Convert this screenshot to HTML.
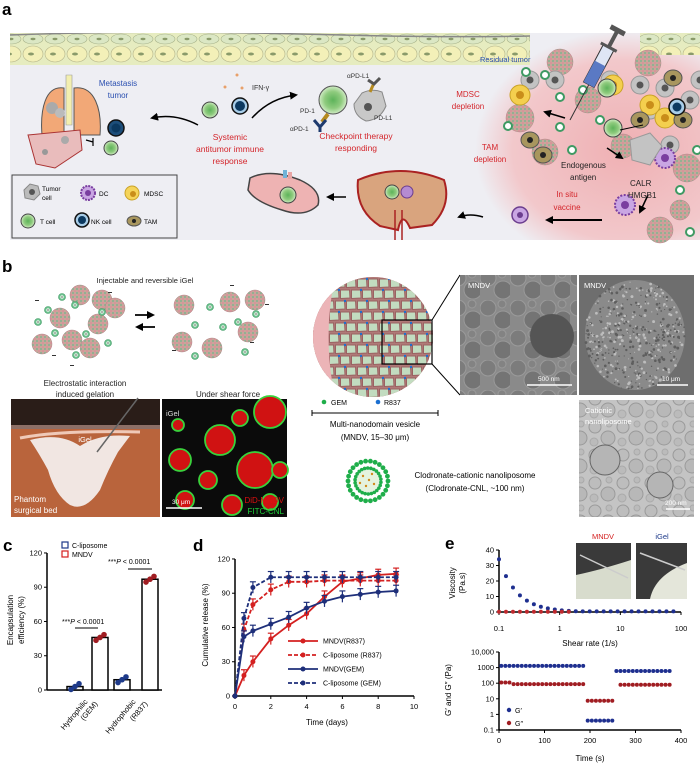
<!DOCTYPE html>
<html><head><meta charset="utf-8"><style>
html,body{margin:0;padding:0;background:#fff;}
svg{display:block;font-family:"Liberation Sans",Arial,sans-serif;}
</style></head><body>
<svg id="s" width="700" height="766" viewBox="0 0 700 766" xmlns="http://www.w3.org/2000/svg">
<defs>
<radialGradient id="tum" cx="0.5" cy="0.5" r="0.5">
<stop offset="0" stop-color="#efb0b3"/><stop offset="0.75" stop-color="#f2c8cb"/><stop offset="1" stop-color="#eeeef3"/>
</radialGradient>
<pattern id="np" width="4" height="4" patternUnits="userSpaceOnUse">
<rect width="4" height="4" fill="#c9a59a"/><circle cx="1" cy="1" r="0.9" fill="#6fb68d"/><circle cx="3" cy="3" r="0.9" fill="#e08a9a"/>
</pattern>
<radialGradient id="tc" cx="0.5" cy="0.5" r="0.5"><stop offset="0" stop-color="#5db35a"/><stop offset="0.6" stop-color="#8fcb7e"/><stop offset="1" stop-color="#d2ecc6"/></radialGradient>
<radialGradient id="sph" cx="0.4" cy="0.4" r="0.6"><stop offset="0" stop-color="#f6d3d3"/><stop offset="1" stop-color="#e7a9ad"/></radialGradient>
<pattern id="em1" width="30" height="30" patternUnits="userSpaceOnUse">
<rect width="30" height="30" fill="#8a8a8a"/><circle cx="8" cy="8" r="8" fill="#7c7c7c" stroke="#9a9a9a"/><circle cx="23" cy="20" r="9" fill="#747474" stroke="#999"/><circle cx="22" cy="4" r="4" fill="#838383" stroke="#9a9a9a"/>
</pattern>
<pattern id="em3" width="28" height="28" patternUnits="userSpaceOnUse">
<rect width="28" height="28" fill="#c4c4c4"/><circle cx="7" cy="7" r="6" fill="#bdbdbd" stroke="#9a9a9a"/><circle cx="20" cy="18" r="7" fill="#b8b8b8" stroke="#9a9a9a"/><circle cx="21" cy="4" r="3" fill="#bbb" stroke="#aaa"/><circle cx="6" cy="22" r="4" fill="#bbb" stroke="#aaa"/>
</pattern>
<pattern id="skin" width="22" height="32" patternUnits="userSpaceOnUse">
<rect width="22" height="32" fill="#e6ecc0"/>
<ellipse cx="11" cy="7" rx="10" ry="5" fill="#dbe7c4" stroke="#a8b38a" stroke-width="0.6"/>
<ellipse cx="11" cy="22" rx="10" ry="8" fill="#f3f0b8" stroke="#b4b48a" stroke-width="0.6"/>
<ellipse cx="9" cy="22" rx="3" ry="1.5" fill="#8a9a6a"/><ellipse cx="11" cy="7" rx="2.5" ry="1.2" fill="#8a9a6a"/>
</pattern>
<marker id="ah" markerWidth="8" markerHeight="8" refX="6" refY="4" orient="auto" markerUnits="userSpaceOnUse"><path d="M0,0 L8,4 L0,8 z" fill="#000"/></marker>
<clipPath id="boxA"><rect x="10" y="33" width="690" height="207"/></clipPath>
<clipPath id="sphC"><circle cx="373" cy="337" r="60"/></clipPath>
</defs>

<!-- PANEL A -->
<text x="2" y="15" font-size="17" font-weight="bold">a</text>
<rect x="10" y="33" width="690" height="207" fill="#eeeef3"/>
<g clip-path="url(#boxA)">
<ellipse cx="625" cy="150" rx="150" ry="120" fill="url(#tum)"/>
<rect x="10" y="33" width="520" height="32" fill="url(#skin)"/>
<rect x="640" y="33" width="60" height="22" fill="url(#skin)"/>
<path d="M10,35 Q150,30 300,34 T530,36" stroke="#888" stroke-width="1.5" fill="none"/>
</g>
<path d="M66,75 L72,75 L72,125 L66,125 Z" fill="#f3efb0" stroke="#999" stroke-width="0.6"/>
<path d="M64,88 C45,85 40,110 42,135 L64,135 Z" fill="#f2a877" stroke="#555" stroke-width="1"/>
<path d="M74,88 C95,85 102,110 100,135 L74,135 Z" fill="#f2a877" stroke="#555" stroke-width="1"/>
<path d="M28,135 L80,130 L82,150 L55,168 L36,164 Z" fill="#e9bcbc" stroke="#a33" stroke-width="1"/>
<circle cx="52" cy="108" r="6" fill="#aaa"/><circle cx="60" cy="113" r="5" fill="#bbb"/><circle cx="65" cy="140" r="4" fill="#aaa"/><circle cx="45" cy="152" r="3" fill="#999"/>
<text x="118" y="86" font-size="8" fill="#2a4fb0" text-anchor="middle">Metastasis</text>
<text x="118" y="98" font-size="8" fill="#2a4fb0" text-anchor="middle">tumor</text>
<circle cx="116" cy="128" r="8" fill="#1d4e7a" stroke="#111" stroke-width="1.5"/><circle cx="116" cy="128" r="4.5" fill="#0c3960"/>
<circle cx="111" cy="148" r="7" fill="url(#tc)" stroke="#444"/>
<path d="M86,140 L93,142 M93,138 L93,146" stroke="#000" stroke-width="1.2"/>
<path d="M198,125 Q175,113 152,118" stroke="#000" stroke-width="1.5" fill="none" marker-end="url(#ah)"/>
<circle cx="237" cy="75" r="1.5" fill="#e8a06a"/><circle cx="225" cy="87" r="1.5" fill="#e8a06a"/><circle cx="242" cy="88" r="1.5" fill="#e8a06a"/>
<text x="252" y="90" font-size="7" fill="#333">IFN-γ</text>
<circle cx="210" cy="110" r="8" fill="url(#tc)" stroke="#444"/>
<circle cx="240" cy="106" r="8" fill="#a8cde8" stroke="#111" stroke-width="1.5"/><circle cx="240" cy="106" r="5" fill="#0c3960"/>
<text x="230" y="140" font-size="8.5" fill="#d4252b" text-anchor="middle">Systemic</text>
<text x="230" y="152" font-size="8.5" fill="#d4252b" text-anchor="middle">antitumor immune</text>
<text x="230" y="164" font-size="8.5" fill="#d4252b" text-anchor="middle">response</text>
<path d="M252,118 Q270,98 296,95" stroke="#000" stroke-width="1.5" fill="none" marker-end="url(#ah)"/>
<circle cx="333" cy="100" r="14" fill="url(#tc)" stroke="#555"/>
<path d="M328,114 L322,122" stroke="#b58a1f" stroke-width="4"/>
<path d="M314,120 L320,127 L326,120 M320,127 L320,132" stroke="#1e3a6e" stroke-width="3" fill="none"/>
<text x="300" y="113" font-size="6.5" fill="#333">PD-1</text>
<text x="290" y="131" font-size="6.5" fill="#333">αPD-1</text>
<path d="M362,93 Q372,88 382,92 L386,106 Q380,120 366,121 Q354,116 354,104 Z" fill="#c8c8c8" stroke="#888"/>
<circle cx="368" cy="107" r="4" fill="#555"/>
<path d="M370,92 L374,83" stroke="#b58a1f" stroke-width="3"/><path d="M368,80 L374,84 L380,78" stroke="#555" stroke-width="3" fill="none"/>
<text x="347" y="78" font-size="6.5" fill="#333">αPD-L1</text>
<text x="374" y="120" font-size="6.5" fill="#333">PD-L1</text>
<text x="356" y="139" font-size="8.5" fill="#d4252b" text-anchor="middle">Checkpoint therapy</text>
<text x="356" y="151" font-size="8.5" fill="#d4252b" text-anchor="middle">responding</text>
<path d="M250,178 Q270,168 300,180 Q322,190 318,205 Q305,218 282,210 Q255,202 248,190 Z" fill="#eeb3b3" stroke="#444" stroke-width="1.5"/>
<rect x="283" y="170" width="4" height="8" fill="#6fb3d8"/><rect x="288" y="172" width="4" height="7" fill="#e8a5a5"/>
<circle cx="288" cy="195" r="8" fill="url(#tc)" stroke="#444"/>
<path d="M346,197 L328,197" stroke="#000" stroke-width="1.5" marker-end="url(#ah)"/>
<path d="M358,180 Q400,162 444,180 Q452,205 432,225 L410,228 Q402,210 398,230 L380,226 Q355,210 358,180 Z" fill="#d9a47e" stroke="#a22" stroke-width="2"/>
<path d="M395,210 L395,240 M402,210 L402,240" stroke="#a22" stroke-width="1.5"/>
<circle cx="392" cy="192" r="7" fill="url(#tc)" stroke="#444"/>
<circle cx="407" cy="192" r="6" fill="#b58bd1" stroke="#6b3d8e"/>
<path d="M483,217 Q470,213 459,217" stroke="#000" stroke-width="1.5" fill="none" marker-end="url(#ah)"/>
<circle cx="520" cy="215" r="8" fill="#c9a6e3" stroke="#6b3d8e" stroke-width="1.5"/><circle cx="520" cy="215" r="3" fill="#6b3d8e"/>
<path d="M602,220 L547,220" stroke="#000" stroke-width="2" marker-end="url(#ah)"/>
<g id="tumorStuff"></g>
<text x="480" y="62" font-size="7.5" fill="#2a4fb0">Residual tumor</text>
<text x="468" y="97" font-size="8" fill="#d4252b" text-anchor="middle">MDSC</text>
<text x="468" y="109" font-size="8" fill="#d4252b" text-anchor="middle">depletion</text>
<text x="490" y="150" font-size="8" fill="#d4252b" text-anchor="middle">TAM</text>
<text x="490" y="162" font-size="8" fill="#d4252b" text-anchor="middle">depletion</text>
<text x="561" y="168" font-size="8" fill="#222">Endogenous</text>
<text x="570" y="180" font-size="8" fill="#222">antigen</text>
<text x="630" y="186" font-size="8" fill="#222">CALR</text>
<text x="628" y="198" font-size="8" fill="#222">HMGB1</text>
<text x="567" y="197" font-size="8" fill="#d4252b" text-anchor="middle">In situ</text>
<text x="567" y="210" font-size="8" fill="#d4252b" text-anchor="middle">vaccine</text>
<g transform="translate(570,120) rotate(28)">
<line x1="0" y1="0" x2="0" y2="-40" stroke="#333" stroke-width="1"/>
<rect x="-6" y="-82" width="12" height="42" fill="#dfe6f5" stroke="#333"/>
<rect x="-6" y="-64" width="12" height="24" fill="#5a79c4"/>
<rect x="-2" y="-100" width="4" height="18" fill="#555"/>
<rect x="-8" y="-104" width="16" height="5" fill="#555"/>
<rect x="-9" y="-84" width="18" height="3" fill="#555"/>
</g>
<rect x="12" y="175" width="165" height="63" fill="#eeeef3" stroke="#444" stroke-width="1"/>
<path d="M24,190 L30,184 L38,186 L40,194 L34,200 L25,198 Z" fill="#bbb" stroke="#888"/><circle cx="32" cy="192" r="3" fill="#555"/>
<text x="42" y="191" font-size="6.5">Tumor</text><text x="42" y="200" font-size="6.5">cell</text>
<circle cx="88" cy="193" r="7" fill="#c9a6e3" stroke="#7a3ea0" stroke-width="2" stroke-dasharray="2 1"/><circle cx="88" cy="193" r="3" fill="#7a3ea0"/>
<text x="99" y="196" font-size="6.5">DC</text>
<circle cx="132" cy="193" r="7" fill="#f5d45a" stroke="#c9a227"/><circle cx="133" cy="194" r="3" fill="#c98e1a"/>
<text x="144" y="196" font-size="6.5">MDSC</text>
<circle cx="28" cy="221" r="7" fill="url(#tc)" stroke="#444"/>
<text x="40" y="224" font-size="6.5">T cell</text>
<circle cx="82" cy="220" r="7" fill="#a8cde8" stroke="#111" stroke-width="1.5"/><circle cx="82" cy="220" r="4" fill="#0c3960"/>
<text x="91" y="224" font-size="6.5">NK cell</text>
<ellipse cx="134" cy="221" rx="7" ry="5" fill="#a8965e" stroke="#555"/><circle cx="134" cy="221" r="2" fill="#222"/>
<text x="144" y="224" font-size="6.5">TAM</text>

<!-- PANEL B -->
<text x="2" y="272" font-size="17" font-weight="bold">b</text>
<text x="145" y="283" font-size="7.5" text-anchor="middle" fill="#222">Injectable and reversible iGel</text>
<g id="clusters"></g>
<path d="M135,315 L153,315" stroke="#000" stroke-width="1.8" marker-end="url(#ah)"/>
<path d="M155,327 L137,327" stroke="#000" stroke-width="1.8" marker-end="url(#ah)"/>
<text x="85" y="386" font-size="8" text-anchor="middle" fill="#222">Electrostatic interaction</text>
<text x="85" y="397" font-size="8" text-anchor="middle" fill="#222">induced gelation</text>
<text x="228" y="397" font-size="8" text-anchor="middle" fill="#222">Under shear force</text>
<rect x="11" y="399" width="149" height="118" fill="#b9643c"/>
<rect x="11" y="399" width="149" height="30" fill="#2a1d18"/>
<rect x="11" y="425" width="149" height="4" fill="#8d6f66"/>
<path d="M30,440 Q60,432 80,446 Q100,433 130,436 L118,452 Q108,470 100,490 Q85,512 70,505 Q55,495 48,470 Q40,455 30,440 Z" fill="#f1e6e2"/>
<path d="M20,438 Q60,430 140,432" stroke="#efc9b8" stroke-width="3" fill="none"/>
<line x1="97" y1="452" x2="138" y2="398" stroke="#666" stroke-width="1.5"/>
<text x="85" y="442" font-size="7.5" fill="#fff" text-anchor="middle">iGel</text>
<text x="14" y="502" font-size="8" fill="#fff">Phantom</text>
<text x="14" y="513" font-size="8" fill="#fff">surgical bed</text>
<rect x="162" y="399" width="125" height="118" fill="#0b0b0b"/>
<g id="fluo"></g>
<text x="166" y="416" font-size="7.5" fill="#ddd">iGel</text>
<line x1="166" y1="508" x2="202" y2="508" stroke="#fff" stroke-width="1.5"/>
<text x="172" y="504" font-size="6.5" fill="#fff">30 μm</text>
<text x="284" y="503" font-size="8" fill="#e01010" text-anchor="end">DiD-MNDV</text>
<text x="284" y="514" font-size="8" fill="#1ed23a" text-anchor="end">FITC-CNL</text>
<circle cx="373" cy="337" r="60" fill="url(#sph)"/>
<g clip-path="url(#sphC)" id="sphere"></g>
<rect x="382" y="320" width="50" height="44" fill="none" stroke="#000" stroke-width="1.2"/>
<line x1="432" y1="320" x2="460" y2="275" stroke="#000" stroke-width="1"/>
<line x1="432" y1="364" x2="460" y2="395" stroke="#000" stroke-width="1"/>
<rect x="460" y="275" width="117" height="120" fill="url(#em1)"/>
<circle cx="552" cy="336" r="22" fill="#555"/>
<text x="468" y="288" font-size="7.5" fill="#fff">MNDV</text>
<line x1="527" y1="385" x2="572" y2="385" stroke="#fff" stroke-width="1.5"/>
<text x="538" y="381" font-size="6.5" fill="#fff">500 nm</text>
<rect x="579" y="275" width="115" height="120" fill="#6e6e6e"/>
<ellipse cx="635" cy="335" rx="50" ry="55" fill="#8a8a8a"/>
<g id="sem"></g>
<text x="584" y="288" font-size="7.5" fill="#fff">MNDV</text>
<line x1="657" y1="385" x2="688" y2="385" stroke="#fff" stroke-width="1.5"/>
<text x="662" y="381" font-size="6.5" fill="#fff">10 μm</text>
<rect x="579" y="400" width="115" height="117" fill="url(#em3)"/>
<circle cx="605" cy="460" r="15" fill="#b5b5b5" stroke="#666"/><circle cx="660" cy="485" r="13" fill="#b5b5b5" stroke="#666"/>
<text x="585" y="413" font-size="7.5" fill="#fff">Cationic</text>
<text x="585" y="424" font-size="7.5" fill="#fff">nanoliposome</text>
<line x1="666" y1="509" x2="690" y2="509" stroke="#fff" stroke-width="1.5"/>
<text x="665" y="505" font-size="6.5" fill="#fff">200 nm</text>
<circle cx="324" cy="402" r="2.3" fill="#1fae4a"/><text x="331" y="405" font-size="7">GEM</text>
<circle cx="378" cy="402" r="2.3" fill="#1b6fd1"/><text x="384" y="405" font-size="7">R837</text>
<path d="M312,410 L312,416 M312,413 L438,413 M438,410 L438,416" stroke="#000" stroke-width="1"/>
<text x="375" y="427" font-size="8" text-anchor="middle">Multi-nanodomain vesicle</text>
<text x="375" y="440" font-size="8" text-anchor="middle">(MNDV, 15–30 μm)</text>
<circle cx="368" cy="481" r="20" fill="#fff"/>
<circle cx="368" cy="481" r="12" fill="#e5f3de" stroke="#cde" />
<g id="lipo"></g>
<text x="475" y="478" font-size="8" text-anchor="middle">Clodronate-cationic nanoliposome</text>
<text x="475" y="491" font-size="8" text-anchor="middle">(Clodronate-CNL, ~100 nm)</text>

<!-- PANEL C -->
<text x="3" y="551" font-size="17" font-weight="bold">c</text>
<rect x="62" y="542" width="6" height="6" fill="none" stroke="#1e3a8a" stroke-width="1.2"/><text x="72" y="548" font-size="7">C-liposome</text>
<rect x="62" y="551" width="6" height="6" fill="none" stroke="#d42020" stroke-width="1.2"/><text x="72" y="557" font-size="7">MNDV</text>
<g id="chartC"></g>
<text font-size="8" text-anchor="middle" transform="translate(13,620) rotate(-90)">Encapsulation</text>
<text font-size="8" text-anchor="middle" transform="translate(24,620) rotate(-90)">efficiency (%)</text>
<text font-size="7.5" text-anchor="end" transform="translate(88,702) rotate(-50)">Hydrophilic</text>
<text font-size="7.5" text-anchor="end" transform="translate(98,704) rotate(-50)">(GEM)</text>
<text font-size="7.5" text-anchor="end" transform="translate(136,702) rotate(-50)">Hydrophobic</text>
<text font-size="7.5" text-anchor="end" transform="translate(148,704) rotate(-50)">(R837)</text>
<text x="62" y="624" font-size="7">***<tspan font-style="italic">P</tspan> &lt; 0.0001</text>
<line x1="75" y1="628" x2="98" y2="628" stroke="#000"/>
<text x="108" y="564" font-size="7">***<tspan font-style="italic">P</tspan> &lt; 0.0001</text>
<line x1="128" y1="569" x2="152" y2="569" stroke="#000"/>

<!-- PANEL D -->
<text x="193" y="551" font-size="17" font-weight="bold">d</text>
<g id="chartD"></g>
<text font-size="8" text-anchor="middle" transform="translate(208,625) rotate(-90)">Cumulative release (%)</text>
<text x="327" y="725" font-size="8" text-anchor="middle">Time (days)</text>

<!-- PANEL E -->
<text x="445" y="549" font-size="17" font-weight="bold">e</text>
<g id="chartE"></g>
<text x="603" y="539" font-size="7.5" fill="#d42020" text-anchor="middle">MNDV</text>
<text x="662" y="539" font-size="7.5" fill="#1e3a8a" text-anchor="middle">iGel</text>
<rect x="576" y="543" width="55" height="56" fill="#3a3a3a"/>
<path d="M576,575 Q600,570 631,560 L631,599 L576,599 Z" fill="#d8dccd"/>
<line x1="580" y1="555" x2="628" y2="578" stroke="#ccc" stroke-width="1.5"/>
<rect x="636" y="543" width="51" height="56" fill="#3a3a3a"/>
<path d="M650,599 Q655,575 687,563 L687,599 Z" fill="#e4e6da"/>
<line x1="640" y1="553" x2="685" y2="570" stroke="#ccc" stroke-width="1.5"/>
<text font-size="8" text-anchor="middle" transform="translate(455,583) rotate(-90)">Viscosity</text>
<text font-size="8" text-anchor="middle" transform="translate(465,583) rotate(-90)">(Pa.s)</text>
<text x="590" y="646" font-size="8" text-anchor="middle">Shear rate (1/s)</text>
<text font-size="8" text-anchor="middle" transform="translate(451,690) rotate(-90)">G′ and G″ (Pa)</text>
<text x="590" y="761" font-size="8" text-anchor="middle">Time (s)</text>
<circle cx="509" cy="710" r="2.2" fill="#1e2f8f"/><text x="515" y="713" font-size="7">G′</text>
<circle cx="509" cy="723" r="2.2" fill="#a01d22"/><text x="515" y="726" font-size="7">G″</text>
</svg>
<script>
var NS="http://www.w3.org/2000/svg";
function el(p,t,a,txt){var e=document.createElementNS(NS,t);for(var k in a)e.setAttribute(k,a[k]);if(txt!==undefined)e.textContent=txt;document.getElementById(p).appendChild(e);return e;}
function np(g,x,y,r){el(g,'circle',{cx:x,cy:y,r:r,fill:'url(#np)',stroke:'#b0888a','stroke-width':0.5});}
function cnl(g,x,y,r){el(g,'circle',{cx:x,cy:y,r:r,fill:'#6cc18e',stroke:'#3e9a63','stroke-width':0.6});el(g,'circle',{cx:x,cy:y,r:r*0.5,fill:'#e8f5ea'});el(g,'circle',{cx:x,cy:y,r:r*0.18,fill:'#222'});}
var seed=7;function rnd(){seed=(seed*9301+49297)%233280;return seed/233280;}
var T='tumorStuff';
[[520,118,14],[545,152,13],[588,100,13],[648,63,13],[623,146,12],[560,62,13],[687,168,14],[660,230,13],[680,210,10]].forEach(function(a){np(T,a[0],a[1],a[2]);});
[[530,80],[555,80],[610,80],[640,85],[665,88],[690,100],[650,110],[700,80],[670,145]].forEach(function(a){el(T,'circle',{cx:a[0],cy:a[1],r:9,fill:'#c3c3c3',stroke:'#999'});el(T,'circle',{cx:a[0],cy:a[1],r:3.5,fill:'#555'});});
[[520,95],[613,85],[650,105],[665,118]].forEach(function(a){el(T,'circle',{cx:a[0],cy:a[1],r:10,fill:'#f4cf4e',stroke:'#c9a227'});el(T,'circle',{cx:a[0],cy:a[1],r:4,fill:'#c98e1a'});});
[[530,140],[543,155],[673,78],[683,120],[640,120]].forEach(function(a){el(T,'ellipse',{cx:a[0],cy:a[1],rx:9,ry:8,fill:'#a8965e',stroke:'#555'});el(T,'circle',{cx:a[0],cy:a[1],r:3,fill:'#222'});});
[[607,88,'url(#tc)'],[613,128,'url(#tc)']].forEach(function(a){el(T,'circle',{cx:a[0],cy:a[1],r:9,fill:a[2],stroke:'#444'});});
el(T,'circle',{cx:677,cy:107,r:8,fill:'#a8cde8',stroke:'#111','stroke-width':1.5});el(T,'circle',{cx:677,cy:107,r:4.5,fill:'#0c3960'});
[[665,158],[625,205]].forEach(function(a){el(T,'circle',{cx:a[0],cy:a[1],r:10,fill:'#c9a6e3',stroke:'#7a3ea0','stroke-width':2,'stroke-dasharray':'2 1.5'});el(T,'circle',{cx:a[0],cy:a[1],r:4,fill:'#7a3ea0'});});
el(T,'path',{d:'M630,140 L650,133 L662,146 L650,165 L632,160 Z',fill:'#c3c3c3',stroke:'#999'});
[[508,126],[560,97],[526,72],[583,90],[560,127],[600,120],[572,150],[697,150],[680,190],[690,232],[545,75]].forEach(function(a){el(T,'circle',{cx:a[0],cy:a[1],r:4,fill:'#fff',stroke:'#3e9a63','stroke-width':2});});
el(T,'path',{d:'M565,118 L545,112',stroke:'#000','stroke-width':1.5,'marker-end':'url(#ah)'});
el(T,'path',{d:'M607,148 L622,158',stroke:'#000','stroke-width':1.5,'marker-end':'url(#ah)'});
el(T,'path',{d:'M648,195 L640,212',stroke:'#000','stroke-width':1.5,'marker-end':'url(#ah)'});
el(T,'path',{d:'M643,125 L620,130',stroke:'#000','stroke-width':1});
var C='clusters';
[[42,344],[60,318],[80,295],[72,340],[98,324],[102,300],[90,348],[115,308]].forEach(function(a){np(C,a[0],a[1],10);});
[[62,297],[75,305],[38,322],[55,333],[86,334],[108,343],[102,312],[76,355],[48,310]].forEach(function(a){cnl(C,a[0],a[1],3.5);});
[[184,305],[230,302],[182,342],[212,348],[248,332],[255,300]].forEach(function(a){np(C,a[0],a[1],10);});
[[210,307],[256,314],[195,325],[223,327],[245,352],[195,356],[238,322]].forEach(function(a){cnl(C,a[0],a[1],3.5);});
[[35,300],[52,355],[108,292],[70,365],[230,285],[172,350],[250,342],[265,304]].forEach(function(a){el(C,'rect',{x:a[0],y:a[1],width:4,height:1,fill:'#333'});});
var F='fluo';
[[220,440,15],[255,470,18],[180,460,11],[208,480,9],[185,500,9],[232,505,10],[270,412,16],[240,418,8],[280,470,8],[178,425,6],[270,502,8]].forEach(function(a){el(F,'circle',{cx:a[0],cy:a[1],r:a[2],fill:'#d01212',stroke:'#39d23c','stroke-width':1.8});});
var S='sphere';
el(S,'rect',{x:313,y:277,width:120,height:120,fill:'#b07a78'});
for(var r=0;r<11;r++)for(var c=0;c<11;c++){var x=318+c*11+(r%2)*5,y=283+r*11;el(S,'polygon',{points:(x-4.5)+','+(y-4)+' '+(x+4.5)+','+(y-4)+' '+(x+5)+','+(y+4)+' '+(x-4.5)+','+(y+4.5),fill:'#c2dcc0',stroke:'#9a6262','stroke-width':1});if((r+c)%2==0)el(S,'circle',{cx:x+5,cy:y-4,r:1.2,fill:'#1b6fd1'});}
el(S,'path',{d:'M313,277 L335,277 Q322,337 335,397 L313,397 Z',fill:'#ecb4b7'});
for(var i=0;i<500;i++){var a=rnd()*6.283,r=50*Math.sqrt(rnd());el('sem','circle',{cx:635+r*Math.cos(a),cy:335+r*Math.sin(a)*1.1,r:0.5+rnd()*1,fill:rnd()>0.5?'#bdbdbd':'#5e5e5e'});}
for(var i=0;i<26;i++){var a=i*Math.PI*2/26;el('lipo','circle',{cx:368+20*Math.cos(a),cy:481+20*Math.sin(a),r:2.4,fill:'#1fae4a'});el('lipo','circle',{cx:368+13*Math.cos(a+0.1),cy:481+13*Math.sin(a+0.1),r:1.8,fill:'#1fae4a'});}
[[363,476],[372,474],[366,486],[374,484],[360,483],[369,480]].forEach(function(a){el('lipo','circle',{cx:a[0],cy:a[1],r:1.2,fill:'#d08a1a'});});
var G='chartC';function cy(v){return 690-v*1.142;}
el(G,'line',{x1:47,y1:553,x2:47,y2:690,stroke:'#000','stroke-width':1.5});el(G,'line',{x1:47,y1:690,x2:162,y2:690,stroke:'#000','stroke-width':1.5});
[0,30,60,90,120].forEach(function(v){el(G,'line',{x1:44,y1:cy(v),x2:47,y2:cy(v),stroke:'#000'});el(G,'text',{x:42,y:cy(v)+2.5,'font-size':7.5,'text-anchor':'end'},v);});
[[67,3,'#1e3a8a'],[92,46,'#a01d22'],[114,9,'#1e3a8a'],[142,97,'#a01d22']].forEach(function(b){el(G,'rect',{x:b[0],y:cy(b[1]),width:16,height:b[1]*1.142,fill:'#fff',stroke:'#000','stroke-width':1.5});
[-4,0,4].forEach(function(d,j){el(G,'circle',{cx:b[0]+8+d,cy:cy(b[1]+(j-1)*2.5),r:2.8,fill:b[2]});});});
G='chartD';function dx(t){return 235+t*17.9;}function dy(v){return 696-v*1.142;}
el(G,'line',{x1:235,y1:559,x2:235,y2:696,stroke:'#000','stroke-width':1.5});el(G,'line',{x1:235,y1:696,x2:414,y2:696,stroke:'#000','stroke-width':1.5});
[0,30,60,90,120].forEach(function(v){el(G,'line',{x1:232,y1:dy(v),x2:235,y2:dy(v),stroke:'#000'});el(G,'text',{x:230,y:dy(v)+2.5,'font-size':7.5,'text-anchor':'end'},v);});
[0,2,4,6,8,10].forEach(function(t){el(G,'line',{x1:dx(t),y1:696,x2:dx(t),y2:699,stroke:'#000'});el(G,'text',{x:dx(t),y:709,'font-size':7.5,'text-anchor':'middle'},t);});
var T9=[0,0.5,1,2,3,4,5,6,7,8,9];
var series=[[[0,18,30,50,62,72,87,100,103,106,107],'#d42020',''],[[0,58,80,93,100,100,101,101,101,101,101],'#d42020','4 2'],[[0,52,57,63,69,77,83,87,89,91,92],'#1e2f7a',''],[[0,68,95,104,104,104,104,104,104,104,104],'#1e2f7a','4 2']];
series.forEach(function(s){var p='';T9.forEach(function(t,i){p+=(i?'L':'M')+dx(t)+','+dy(s[0][i]);});el(G,'path',{d:p,fill:'none',stroke:s[1],'stroke-width':1.8,'stroke-dasharray':s[2]});
T9.forEach(function(t,i){if(i){var e=5;el(G,'line',{x1:dx(t),y1:dy(s[0][i]-e),x2:dx(t),y2:dy(s[0][i]+e),stroke:s[1],'stroke-width':1.2});el(G,'line',{x1:dx(t)-3,y1:dy(s[0][i]+e),x2:dx(t)+3,y2:dy(s[0][i]+e),stroke:s[1],'stroke-width':1.2});}
el(G,'circle',{cx:dx(t),cy:dy(s[0][i]),r:2.5,fill:s[1]});});});
['MNDV(R837)','C-liposome (R837)','MNDV(GEM)','C-liposome (GEM)'].forEach(function(n,i){var y=641+i*14;el(G,'line',{x1:288,y1:y,x2:318,y2:y,stroke:series[i][1],'stroke-width':1.8,'stroke-dasharray':series[i][2]});el(G,'circle',{cx:303,cy:y,r:2.5,fill:series[i][1]});el(G,'text',{x:323,y:y+2.5,'font-size':7},n);});
G='chartE';function ex(s){return 499+(Math.log10(s)+1)*60.67;}function ey(v){return 612-v*1.55;}
el(G,'line',{x1:499,y1:550,x2:499,y2:612,stroke:'#000','stroke-width':1.5});el(G,'line',{x1:499,y1:612,x2:681,y2:612,stroke:'#000','stroke-width':1.5});
[0,10,20,30,40].forEach(function(v){el(G,'line',{x1:496,y1:ey(v),x2:499,y2:ey(v),stroke:'#000'});el(G,'text',{x:494,y:ey(v)+2.5,'font-size':7.5,'text-anchor':'end'},v);});
[[0.1,'0.1'],[1,'1'],[10,'10'],[100,'100']].forEach(function(a){el(G,'line',{x1:ex(a[0]),y1:612,x2:ex(a[0]),y2:615,stroke:'#000'});el(G,'text',{x:ex(a[0]),y:631,'font-size':7.5,'text-anchor':'middle'},a[1]);});
for(var i=0;i<26;i++){var s=Math.pow(10,-1+i*0.115);if(s>85)break;var v=34*Math.pow(0.1/s,1.45);if(v<0.4)v=0.4;el(G,'circle',{cx:ex(s),cy:ey(v),r:2,fill:'#1e2f8f'});if(s<1.5)el(G,'circle',{cx:ex(s),cy:ey(0.2),r:2,fill:'#c0282d'});}
function gx(t){return 499+t*0.455;}function gy(p){return 652+(4-Math.log10(p))*15.6;}
el(G,'line',{x1:499,y1:652,x2:499,y2:730,stroke:'#000','stroke-width':1.5});el(G,'line',{x1:499,y1:730,x2:681,y2:730,stroke:'#000','stroke-width':1.5});
[[10000,'10,000'],[1000,'1000'],[100,'100'],[10,'10'],[1,'1'],[0.1,'0.1']].forEach(function(a){el(G,'line',{x1:496,y1:gy(a[0]),x2:499,y2:gy(a[0]),stroke:'#000'});el(G,'text',{x:494,y:gy(a[0])+2.5,'font-size':7.5,'text-anchor':'end'},a[1]);});
[0,100,200,300,400].forEach(function(t){el(G,'line',{x1:gx(t),y1:730,x2:gx(t),y2:733,stroke:'#000'});el(G,'text',{x:gx(t),y:743,'font-size':7.5,'text-anchor':'middle'},t);});
for(var t=5;t<=190;t+=9){el(G,'circle',{cx:gx(t),cy:gy(1300),r:2,fill:'#1e2f8f'});el(G,'circle',{cx:gx(t),cy:gy(t<30?110:88),r:2,fill:'#a01d22'});}
for(var t=195;t<=250;t+=9){el(G,'circle',{cx:gx(t),cy:gy(0.4),r:2,fill:'#1e2f8f'});el(G,'circle',{cx:gx(t),cy:gy(7.5),r:2,fill:'#a01d22'});}
for(var t=258;t<=375;t+=9){el(G,'circle',{cx:gx(t),cy:gy(600),r:2,fill:'#1e2f8f'});if(t>=265)el(G,'circle',{cx:gx(t),cy:gy(80),r:2,fill:'#a01d22'});}
</script>
</body></html>
